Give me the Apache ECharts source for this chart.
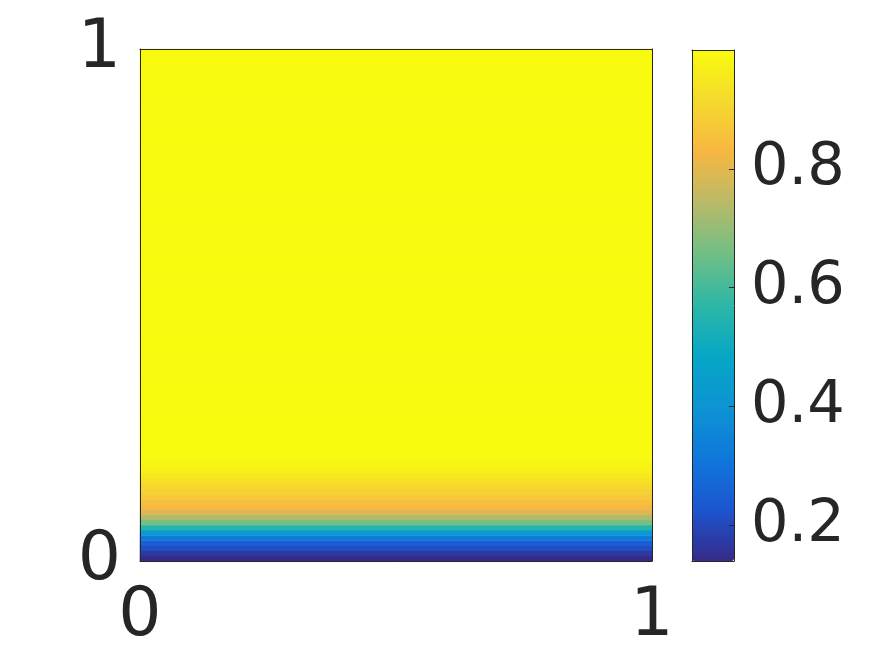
<!DOCTYPE html>
<html>
<head>
<meta charset="utf-8">
<title>heatmap</title>
<script src="https://cdn.jsdelivr.net/npm/echarts@6/dist/echarts.min.js"></script>
<style>
    html, body {
        margin: 0;
        padding: 0;
        background: #fff;
    }
    #main {
        width: 887px;
        height: 658px;
    }
</style>
</head>
<body>
<div id="main"></div>
<script>
// axis ticks shown on the plot
const axisTicks = [0, 1];
// colorbar tick labels
const barTicks = [0.2, 0.4, 0.6, 0.8];
// colour range of the colorbar
const valueMin = 0.14;
const valueMax = 1.0;
// row values, bottom row first
const bottomRows = [0.14, 0.17, 0.21, 0.25, 0.32, 0.42, 0.55, 0.66, 0.73, 0.79,
    0.83, 0.85, 0.87, 0.89, 0.91, 0.93, 0.95, 0.97, 0.98, 0.99];
// everything above is flat yellow
const topValue = 1.0;
const rowCount = 100;
const columns = ['c'];

// parula-like colours
const parula = ['#352a87', '#1d55d0', '#0f77db', '#0e93d3', '#06a7c6', '#2db7a6',
    '#70bf86', '#b8ba68', '#f7b742', '#f5d92c', '#f9fb0e'];

const textColor = '#262626';
const fontName = 'DejaVu Sans';

let rows = [];
let heatData = [];
for (let i = 0; i < rowCount; i++) {
    rows.push(String(i));
    let v = i < bottomRows.length ? bottomRows[i] : topValue;
    heatData.push([0, i, v]);
}

var chartDom = document.getElementById('main');
var myChart = echarts.init(chartDom, null, { renderer: 'canvas' });

const lineStyle = { color: textColor, width: 1 };

// plain value axis used for the frame and ticks
const frameAxis = (pos, grid, labels, extra) => Object.assign({
    type: 'value',
    gridIndex: grid,
    position: pos,
    min: axisTicks[0],
    max: axisTicks[1],
    interval: 1,
    z: 10,
    splitLine: { show: false },
    axisLine: { show: true, onZero: false, lineStyle: lineStyle },
    axisTick: { show: true, inside: true, length: 5, lineStyle: lineStyle },
    axisLabel: {
        show: labels,
        color: textColor,
        fontFamily: fontName,
        fontSize: 68
    }
}, extra || {});

const option = {
    animation: false,
    backgroundColor: '#fff',
    grid: [
        {
            // main plot
            left: 140,
            top: 49,
            width: 512,
            height: 512,
            outerBoundsMode: 'none'
        },
        {
            // colorbar frame
            left: 692,
            top: 50,
            width: 42,
            height: 511,
            outerBoundsMode: 'none'
        }
    ],
    xAxis: [
        { type: 'category', gridIndex: 0, data: columns, show: false },
        frameAxis('bottom', 0, true, {
            axisLabel: { show: true, color: textColor, fontFamily: fontName, fontSize: 68, margin: 22 }
        }),
        frameAxis('top', 0, false),
        frameAxis('bottom', 1, false, { axisTick: { show: false } }),
        frameAxis('top', 1, false, { axisTick: { show: false } })
    ],
    yAxis: [
        { type: 'category', gridIndex: 0, data: rows, show: false },
        frameAxis('left', 0, true, {
            axisLabel: { show: true, color: textColor, fontFamily: fontName, fontSize: 68, margin: 19 }
        }),
        frameAxis('right', 0, false),
        {
            type: 'value',
            gridIndex: 1,
            position: 'right',
            min: valueMin,
            max: valueMax,
            z: 10,
            splitLine: { show: false },
            axisLine: { show: true, onZero: false, lineStyle: lineStyle },
            axisTick: { show: true, inside: true, length: 5, customValues: barTicks, lineStyle: lineStyle },
            axisLabel: {
                show: true,
                customValues: barTicks,
                formatter: (v) => v.toFixed(1),
                color: textColor,
                fontFamily: fontName,
                fontSize: 59,
                margin: 17
            }
        },
        frameAxis('left', 1, false, { min: valueMin, max: valueMax, interval: null, axisTick: { show: false } })
    ],
    visualMap: {
        type: 'continuous',
        seriesIndex: 0,
        min: valueMin,
        max: valueMax,
        calculable: false,
        orient: 'vertical',
        left: 692,
        top: 50,
        itemWidth: 42,
        itemHeight: 511,
        padding: 0,
        text: null,
        inRange: { color: parula }
    },
    series: [
        {
            type: 'heatmap',
            xAxisIndex: 0,
            yAxisIndex: 0,
            data: heatData,
            itemStyle: { borderWidth: 0 },
            emphasis: { disabled: true },
            progressive: 0
        }
    ]
};
myChart.setOption(option);
</script>
</body>
</html>
